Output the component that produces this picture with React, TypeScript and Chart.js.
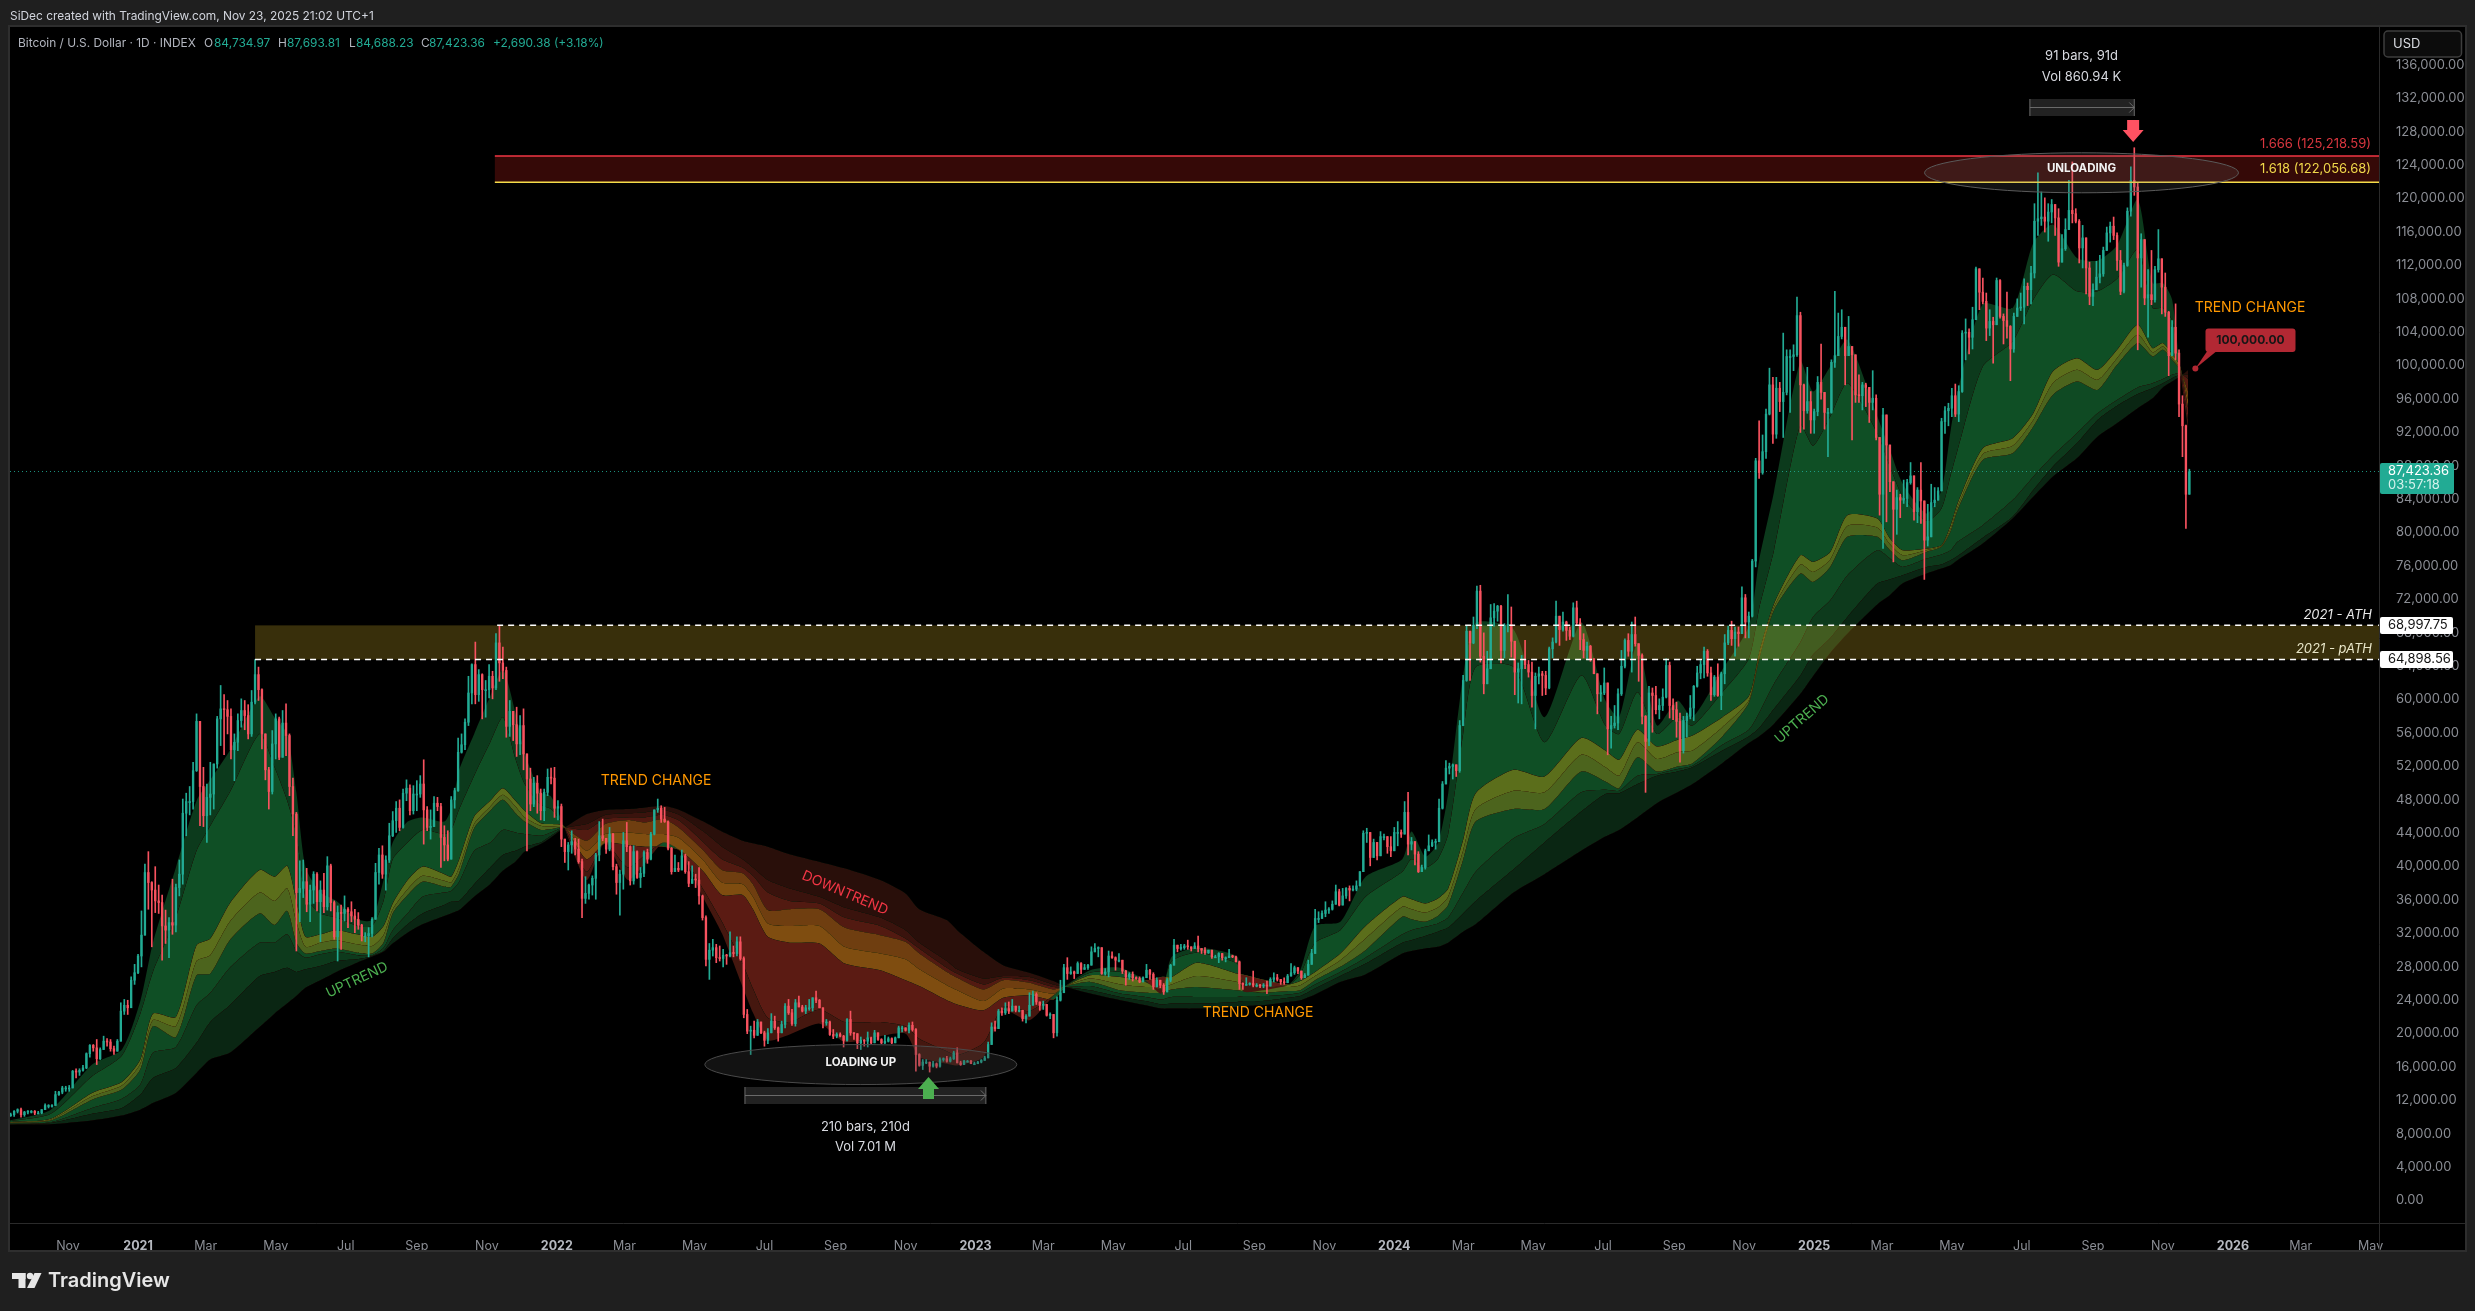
import React, { useEffect, useRef } from "react";
import { Chart, registerables } from "chart.js";

Chart.register(...registerables);

// Prices are in thousands of USD. Candles: [high, low, close], one per 3 days.
const candles2020 = [
[10.6,10.2,10.4],[10.9,10.2,10.8],[11.1,10.6,11.0],[11.2,10.1,10.4],[10.8,10.2,10.7],[10.9,10.5,10.8],[10.9,10.6,10.8],
[10.9,10.4,10.6],[10.8,10.5,10.6],[11.0,10.5,11.0],[11.7,11.0,11.5],[11.6,11.2,11.5],[11.6,11.3,11.5],[13.2,11.5,12.8],[13.2,12.7,13.1],[13.8,12.9,13.6],[13.8,13.2,13.6],
[13.9,13.2,13.6],[15.7,13.6,15.6],[15.9,14.8,15.5],[15.9,15.1,15.7],[16.3,15.6,16.0],[17.8,15.9,17.7],[18.8,17.3,18.7],[18.8,18.0,18.4],[19.4,16.4,17.1],[18.4,17.0,18.2],
[19.8,18.2,19.2],[19.5,18.6,19.1],[19.4,18.0,18.3],[18.6,17.6,18.0],[19.4,18.0,19.2],[23.8,19.2,22.8],[24.2,22.4,23.5],[24.1,22.4,23.2],[26.9,23.2,26.5],[28.4,26.0,27.4],
];
const candles2021 = [
[29.6,27.3,29.4],[34.8,28.1,31.9],[40.4,31.9,39.4],[41.9,35.0,38.2],[38.3,30.5,37.3],[40.1,34.6,36.0],[37.9,34.5,35.8],[36.7,28.9,33.0],[34.9,30.9,32.5],[34.0,29.2,33.4],[38.6,32.0,33.1],
[38.0,32.3,37.6],[40.9,36.6,39.2],[48.2,38.0,46.5],[48.9,43.8,47.9],[49.7,46.3,47.9],[52.6,47.0,51.6],[58.4,51.5,57.5],[57.5,45.0,49.7],[52.0,44.9,46.2],[50.0,43.0,48.4],[52.6,46.3,48.8],[52.4,47.0,52.4],[58.1,51.9,57.8],[61.8,54.6,59.0],[60.7,53.5,58.9],[60.0,56.0,58.1],[59.0,53.0,54.1],[56.0,50.4,55.0],[58.4,54.0,57.6],
[60.2,56.8,58.8],[60.0,56.5,58.2],[59.5,55.4,56.0],[61.2,55.7,59.8],[64.9,59.6,63.1],[64.0,60.0,61.3],[61.4,54.2,56.0],[56.0,50.5,51.7],[52.0,47.0,49.1],[56.4,48.8,54.8],[58.4,53.0,57.8],[58.0,52.9,53.2],[58.8,53.2,57.3],[59.6,53.4,55.8],[56.0,48.6,49.7],[50.7,43.8,46.4],[46.6,30.0,37.0],[40.8,33.5,37.5],[40.9,36.4,38.3],[39.9,34.7,35.6],[37.9,33.5,37.3],
[39.5,35.7,39.2],[39.4,34.8,35.9],[38.4,31.1,37.3],[39.3,34.6,35.3],[41.3,34.9,40.2],[40.4,34.8,35.8],[36.0,31.4,31.7],[35.4,28.8,34.6],[35.5,30.2,34.5],[36.6,33.6,35.0],[35.2,32.8,34.7],[35.9,33.5,34.2],[35.0,32.2,33.8],[34.6,32.6,33.1],[33.2,31.2,31.8],[32.2,31.1,31.8],[32.8,29.3,32.1],[34.0,31.7,33.8],[40.5,33.8,39.4],[42.3,38.0,41.5],
[42.6,38.7,39.2],[41.4,37.3,40.9],[45.3,40.6,43.8],[46.7,43.7,45.6],[47.9,44.2,47.1],[48.1,44.4,44.8],[49.4,44.7,48.9],[50.5,48.0,49.5],[49.9,46.3,46.8],[49.8,46.4,48.8],[50.4,46.8,48.8],[51.0,48.4,50.0],[52.9,42.8,46.9],[47.3,44.4,44.8],[46.9,43.4,44.9],[48.5,44.9,47.7],[48.4,46.8,47.3],[47.7,40.0,43.6],[45.0,40.8,42.7],[44.4,40.8,41.0],
[48.5,41.0,48.1],[49.5,47.1,49.2],[55.5,49.1,53.8],[56.0,53.7,54.7],[57.8,54.1,57.4],[62.9,57.0,60.9],[64.4,59.6,64.3],[67.0,59.6,60.7],[63.7,59.9,63.1],[63.2,57.8,61.3],[62.4,58.0,61.3],
[64.3,60.3,62.9],[63.5,60.2,61.5],[68.0,61.3,66.9],[69.0,62.3,64.5],[66.4,62.6,63.6],[64.0,55.6,56.9],[60.0,55.7,58.7],[58.7,55.2,57.1],[59.2,53.3,54.8],[58.2,53.5,57.0],
[59.0,51.7,53.6],[53.6,42.0,50.6],[51.9,46.8,47.6],[50.8,47.3,50.1],[51.0,46.5,48.9],[49.4,45.7,46.8],[49.4,45.6,49.0],[51.8,48.6,50.8],[51.9,50.0,50.7],[52.0,46.0,47.1],
];
const candles2022 = [
[48.0,45.7,47.3],[47.6,42.5,43.4],[43.4,40.6,41.9],[43.0,39.7,42.7],[44.4,41.7,43.1],[43.5,41.5,42.2],[43.4,40.5,40.7],[41.0,34.0,36.3],[38.9,35.7,36.9],[38.0,36.2,37.9],
[39.0,36.7,38.7],[41.7,36.2,41.5],[45.5,40.8,43.8],[45.8,43.2,43.5],[43.5,41.7,42.2],[44.8,42.0,44.0],[44.1,39.7,40.1],[40.4,36.8,38.2],[39.7,34.3,39.2],[44.2,37.4,43.2],
[45.4,41.9,42.5],[42.6,37.9,38.4],[42.6,38.0,41.9],[42.0,38.7,38.8],[40.0,37.6,39.3],[42.0,38.9,41.8],[42.2,40.5,41.0],[44.2,40.9,44.0],[46.9,43.9,46.9],[48.2,46.6,47.1],
[47.4,45.4,45.8],[47.2,45.4,45.5],[45.6,42.1,42.3],[42.4,39.2,39.5],[41.5,39.5,39.9],[40.6,39.5,39.7],[42.1,39.7,41.4],[41.6,39.3,39.5],[40.7,37.7,38.1],[40.2,38.1,38.6],
[39.2,37.6,38.5],[40.0,35.6,36.6],[36.7,33.7,34.0],[34.2,28.2,29.0],[30.9,26.6,30.1],[31.4,29.4,30.4],[30.8,28.6,29.2],[30.6,28.8,29.1],[30.2,28.1,29.5],[29.6,28.4,29.4],[32.3,29.3,29.8],
[30.6,29.3,29.7],[31.7,29.4,31.1],[31.7,28.9,29.1],[29.3,22.0,22.4],[23.0,20.1,20.4],[21.0,17.6,20.5],[21.6,19.6,19.9],[21.8,19.9,21.5],[21.5,20.1,20.2],[20.4,18.6,19.3],
[20.7,18.9,20.2],[22.5,20.2,21.6],[22.2,20.6,20.8],[20.9,19.2,20.2],[21.6,20.2,21.2],[23.7,20.8,23.4],[24.2,22.4,22.6],[23.0,21.1,21.3],[24.2,21.0,23.8],[24.6,23.3,23.3],
[23.5,22.7,22.8],[23.5,22.5,23.2],[24.2,22.9,23.2],[24.4,22.8,24.4],[25.2,23.8,24.1],[24.2,23.2,23.2],[23.2,20.8,21.5],[21.8,21.1,21.5],[21.6,19.9,20.0],[20.6,19.5,19.8],
[20.2,19.6,20.0],[20.2,19.7,19.8],[19.9,18.5,19.3],[21.9,19.2,21.8],[22.8,19.9,20.2],[20.2,19.4,20.1],[20.1,18.3,19.0],[19.7,18.2,19.3],[19.4,18.6,19.2],[20.3,18.5,19.6],
[19.7,18.9,19.0],[20.5,19.0,20.2],[20.2,19.3,19.4],[19.5,18.9,19.0],[19.9,18.9,19.2],[19.7,19.1,19.5],[19.6,18.9,19.0],[19.7,19.0,19.6],[21.0,19.6,20.8],[21.0,20.3,20.8],
[20.8,20.4,20.5],[21.4,20.2,21.1],[21.5,20.4,20.6],[20.7,15.6,17.6],[17.7,16.2,16.3],[17.0,15.8,16.7],[17.0,16.5,16.7],[16.7,15.5,16.2],[16.8,16.1,16.5],[16.6,16.0,16.2],
[17.2,16.1,17.0],[17.2,16.8,17.1],[17.4,16.7,16.8],[17.3,16.7,17.1],[18.0,17.0,17.8],[18.4,16.6,16.6],[16.8,16.3,16.4],[16.9,16.4,16.8],[16.9,16.7,16.8],[16.9,16.5,16.5],[16.7,16.4,16.5],
];
const candles2023 = [
[16.8,16.5,16.7],[17.0,16.6,16.9],[17.4,16.9,17.2],[19.1,17.2,18.8],[21.4,18.8,20.9],[21.6,20.4,20.7],[23.0,20.7,22.8],[23.2,22.3,22.6],[23.8,22.4,23.1],[23.9,22.5,22.8],
[24.2,22.8,23.4],[23.4,22.7,22.9],[23.4,22.7,22.9],[22.9,21.6,21.9],[22.4,21.4,22.2],[25.0,22.2,23.5],[25.2,23.5,24.8],[25.0,23.6,23.9],[23.9,22.9,23.5],[24.0,23.0,23.6],
[23.6,22.2,22.3],[22.6,21.9,22.4],[22.4,19.6,20.2],[24.5,19.8,24.1],[26.5,24.0,25.0],[28.4,25.0,28.0],[29.2,26.6,27.3],[28.1,27.2,27.5],[27.6,26.7,27.3],[28.7,27.3,28.5],
[28.6,27.3,27.8],[28.4,27.8,28.0],[28.4,27.8,28.3],[30.5,28.3,29.9],[30.9,29.9,30.3],[30.5,29.3,30.4],[30.4,27.2,27.3],[27.9,27.1,27.5],[30.0,26.9,29.4],[29.9,29.1,29.2],
[29.3,27.7,28.9],[29.7,28.7,28.9],[28.9,27.3,27.6],[27.7,25.9,26.9],[27.4,26.6,27.2],[27.5,26.4,26.8],[26.9,26.6,26.7],[26.9,26.2,26.3],[26.9,26.3,26.8],[28.4,26.8,27.7],
[27.8,26.6,27.2],[27.4,25.4,25.7],[26.8,25.7,26.5],[26.5,25.6,25.9],[26.1,24.8,25.1],[26.7,25.1,26.5],[28.4,26.3,28.3],[31.4,28.3,30.7],[30.7,29.9,30.3],[30.8,30.1,30.4],
[30.8,30.2,30.6],[31.3,30.2,30.5],[30.5,30.0,30.3],[31.0,30.3,30.6],[31.8,29.9,30.3],[30.3,29.7,30.1],[30.4,29.6,29.8],[30.1,29.7,30.1],[30.1,29.1,29.3],[29.5,29.2,29.3],
[29.8,28.6,29.7],[29.7,28.9,29.2],[29.3,28.7,29.2],[30.2,29.2,29.4],[29.5,29.2,29.3],[29.4,28.7,28.7],[28.8,25.4,26.1],[26.2,25.4,26.0],[26.8,25.9,26.0],[26.2,25.9,26.1],
[27.6,25.7,25.9],[26.1,25.7,25.9],[26.0,25.6,25.8],[26.1,25.6,25.9],[26.4,24.9,25.8],[26.8,25.8,26.6],[27.4,26.3,26.8],[27.2,26.4,26.6],[26.6,26.0,26.3],[26.8,26.0,26.2],[27.2,26.2,27.0],
[28.5,27.0,27.4],[28.2,27.2,28.0],[28.0,27.3,27.6],[27.6,26.6,26.8],[27.3,26.8,27.1],[28.9,27.1,28.4],[30.2,28.4,29.7],[35.0,29.7,33.9],[34.7,33.4,33.9],[34.8,33.9,34.5],
[35.9,34.1,34.9],[35.2,34.5,35.0],[36.0,34.9,35.6],[37.9,35.6,37.1],[37.4,35.4,35.5],[37.5,35.5,36.6],[37.6,36.3,37.5],[37.8,36.0,37.3],[37.8,37.2,37.4],[38.4,37.2,37.8],
[39.5,37.8,39.5],[44.4,39.5,44.1],[44.7,43.0,44.2],[44.2,40.2,41.2],[43.4,41.2,43.0],[43.0,40.9,41.4],[44.3,41.4,43.7],[44.0,43.3,43.7],[43.7,41.7,42.5],[43.7,41.3,42.0],
];
const candles2024 = [
[44.8,42.0,44.2],[45.5,42.6,44.2],[44.5,43.6,44.0],[47.9,44.0,46.6],[49.0,41.5,42.8],[43.6,42.1,43.1],[43.1,40.3,41.6],[41.9,39.4,39.5],[40.3,39.5,40.0],[42.2,39.8,42.0],[43.9,42.0,42.6],
[43.3,42.5,43.0],[43.4,42.2,43.1],[48.2,43.1,47.1],[50.3,47.0,50.0],[52.8,50.0,51.9],[52.5,51.2,52.1],[52.4,50.6,52.3],[52.3,50.9,51.6],[57.6,51.4,57.0],[63.0,57.0,62.4],[68.9,62.3,68.3],[68.3,62.4,66.9],[70.0,66.8,69.0],[73.7,68.6,73.1],[73.8,64.6,65.3],[68.1,60.8,62.0],[65.9,62.0,63.8],[71.5,63.8,69.9],[71.6,68.9,70.7],[71.4,69.5,71.3],
[71.4,64.5,66.0],[69.2,65.1,69.0],[72.7,68.2,69.1],[71.2,65.2,67.1],[67.1,60.7,63.4],[64.5,59.7,63.8],[65.4,59.6,64.9],[67.2,63.8,64.3],[64.8,62.8,63.4],[64.6,59.2,60.6],
[63.3,56.6,62.9],[64.0,62.0,63.2],[63.5,60.6,63.0],[63.5,60.7,61.5],[66.4,61.4,66.2],[67.5,65.1,67.0],[71.9,66.9,70.1],[70.1,66.6,68.5],[70.6,68.3,69.4],[69.5,67.2,68.4],
[68.8,67.3,67.7],[71.7,67.6,71.1],[71.9,69.0,69.3],[69.8,66.1,67.3],[68.0,65.1,66.0],[67.0,64.9,66.5],[66.6,64.7,65.0],[65.0,63.2,63.2],[63.2,58.4,60.8],[61.8,59.9,60.9],
[63.9,60.7,62.1],[62.1,53.5,56.6],[58.1,54.3,57.0],[59.4,56.7,57.3],[61.4,56.5,60.8],[66.0,60.6,64.1],[67.4,63.9,67.2],[68.0,65.3,65.9],[69.4,63.4,67.9],[70.0,66.5,66.8],
[66.8,62.3,65.4],[65.6,57.2,58.1],[58.2,49.0,55.1],[61.7,54.6,60.9],[61.5,56.2,60.6],[61.7,58.4,58.9],[60.2,57.8,59.4],[61.4,58.8,60.4],[65.0,60.3,64.2],[64.6,57.9,59.4],[60.2,57.7,58.9],
[59.8,55.6,57.5],[58.5,52.6,54.0],[58.1,53.7,57.6],[58.5,55.6,58.1],[60.6,57.8,59.1],[61.8,57.6,61.7],[64.1,61.6,63.3],[64.8,62.6,64.3],[66.4,62.7,65.9],[66.1,62.9,63.3],
[64.0,60.0,60.7],[63.0,60.5,62.8],[64.4,60.5,60.6],[63.4,58.9,63.2],[67.9,62.0,66.9],[68.9,66.7,68.4],[69.5,66.6,67.4],[68.8,65.3,68.2],[68.8,66.5,68.0],[73.6,68.0,72.3],
[72.7,67.5,69.4],[70.6,67.5,70.1],[76.9,70.0,76.7],[89.0,76.0,88.7],[93.5,86.6,87.3],[91.8,87.1,89.8],[94.9,89.0,94.3],[99.8,94.2,97.8],[98.7,90.8,91.9],[98.7,91.4,97.4],
[98.1,94.6,95.8],[104.0,91.5,96.9],[102.0,96.6,101.2],[102.0,94.5,101.2],[102.6,99.5,101.4],[108.3,101.2,106.1],[106.5,92.1,97.8],[97.9,92.5,94.7],[99.9,94.4,95.8],[97.0,92.0,93.6],
];
const candles2025 = [
[94.9,92.0,94.6],[98.8,94.1,98.1],[102.7,96.1,96.9],[96.9,92.5,94.5],[95.0,89.2,94.5],[100.8,94.4,100.5],[109.0,99.9,101.3],[106.4,101.3,103.6],[106.8,103.3,104.7],[104.7,97.8,101.3],[106.0,101.3,102.4],
[102.4,91.2,101.4],[101.4,95.7,96.6],[99.0,95.7,96.5],[98.1,94.8,97.8],[98.0,95.2,97.5],[97.5,93.3,95.7],[99.5,94.8,96.2],[96.6,91.2,91.5],[91.5,82.2,84.7],[95.0,78.2,94.2],[94.2,81.4,90.6],[90.6,85.0,86.2],[86.2,76.6,82.9],[85.2,79.9,84.3],[84.7,81.9,84.0],[86.4,83.6,84.2],[86.5,83.2,86.1],[88.5,85.9,86.9],[86.9,81.6,82.6],
[85.5,81.3,85.2],[88.5,81.2,83.9],[83.9,74.5,79.2],[83.5,78.5,79.6],[85.9,79.6,83.7],[85.5,83.2,84.0],[85.5,84.0,85.1],[93.8,85.1,93.4],[95.2,92.0,94.7],[95.6,92.9,95.0],
[97.4,94.0,96.5],[97.9,94.0,94.3],[97.7,93.4,97.0],[104.3,96.9,104.0],[105.7,100.8,104.1],[104.5,101.5,103.5],[107.1,102.1,105.6],[111.9,105.6,111.7],[111.7,106.8,108.9],[110.6,107.5,107.8],[108.8,103.1,104.6],
[106.8,103.7,105.4],[105.9,100.4,105.0],[110.6,105.0,110.3],[110.4,105.8,106.0],[106.3,102.7,105.5],[108.9,103.4,104.8],[104.9,98.3,102.1],[106.4,101.7,106.0],[108.1,106.0,107.0],[108.8,106.7,107.1],
[110.5,105.1,109.6],[110.0,107.3,109.2],[112.0,107.5,111.2],[119.5,110.6,117.4],[123.2,115.7,117.7],[120.9,116.9,117.9],[120.2,116.1,117.4],[119.5,115.0,118.5],[120.0,117.2,119.4],[119.4,115.7,117.8],
[118.9,112.0,112.5],[115.8,112.5,114.1],[117.7,113.9,116.4],[122.3,116.4,118.7],[124.5,117.2,118.3],[118.9,117.2,117.4],[117.6,112.4,114.2],[116.9,111.8,115.4],[115.4,108.7,111.8],[112.5,107.4,108.4],
[109.9,107.3,109.2],[112.6,109.2,110.7],[113.3,110.0,111.1],[114.3,110.8,113.9],[116.7,113.9,116.0],[117.3,114.9,116.8],[117.9,115.2,115.7],[116.0,111.5,112.7],[113.9,108.6,109.0],[112.4,108.8,112.1],
[119.0,112.0,118.6],[123.9,118.0,122.3],[126.2,120.5,121.5],[122.0,102.0,113.0],[115.9,109.5,115.2],[115.2,107.4,108.2],[111.6,103.5,108.6],[113.9,107.4,108.0],[112.0,107.7,111.6],[116.4,111.3,112.9],[112.9,106.3,109.5],
[111.2,106.0,106.5],[106.6,98.9,101.3],[105.5,101.3,104.7],[107.5,100.8,101.6],[102.0,94.0,95.5],[96.5,89.2,92.9],[93.0,80.6,84.7],[87.7,84.7,87.4],
];

// Ribbon rows: [day since 2021-01-01, s1 (fastest) ... s8 (slowest)]
const ribbonBull2021 = [
[-112,9.7,9.6,9.5,9.45,9.4,9.3,9.25,9.2],[-76,11.0,10.5,9.9,9.8,9.7,9.5,9.4,9.25],[-40,16.4,15.0,13.0,12.6,12.2,11.2,10.5,9.7],[-14,18.2,17.5,14.3,13.9,13.4,12.3,11.2,10.3],
[2,24,22.5,17.0,16.5,15.8,14,12.8,11.0],[13,31,27.5,22.5,21.7,21,17.8,14.8,11.8],[33,40,34,22.1,21,19.7,18.5,16,13.0],[51,48,42,30.7,28.8,27.1,23.5,19,15.4],[63,50.5,45,31.5,29.5,27.3,25,21.5,17],
[80,54,49,35.7,33.5,31.3,28,23.5,17.8],[106,60.5,56,39.7,37,34.5,31,27,20.9],[119,58,52,38.9,36,33.1,31,27.5,22.5],[130,56,48,40.2,37.5,34.8,32,28,23.7],[138,49,44,36,33.5,31,30,27.5,24.6],
[146,40,36.5,31.7,30.5,29.7,29.2,27.8,25.6],[159,37,34.5,32,31,30,29.6,28.2,26.5],[173,36,34,32.5,31.3,30.3,29.9,28.8,27.5],[191,33.8,33,32,30.8,29.8,29.5,29,28.6],[204,33.7,33,31.7,30.6,29.7,29.5,29.4,29.3],
[214,38.5,36,33,31.9,31,30.4,30,29.9],[222,43,41,35.7,35,34.5,32.5,31.5,30.9],[235,45.5,43,38.5,37.4,36.7,34.5,33.2,32.2],[248,46,44.5,40.1,39,38.3,36.5,34.5,33.2],[267,45.5,44,39.2,38.4,37.7,37,35.5,34.2],[273,47,44.5,38.9,38.2,37.7,37.2,35.9,34.5],
[280,51.7,47,41,40,39.3,38.3,36,34.9],[293,56,51,46.1,45.2,44.7,42,38,36.5],[307,60.5,55,48,47.3,46.8,43,40,38],[318,63.7,58,49.5,48.7,48.1,44.5,41.5,39.6],[329,58.5,53,48,47.3,46.5,44.2,42,40.7],[337,53.7,50,46.8,46,45.5,44,42.5,41.9],
[351,49,47.5,45.3,45,44.5,43.8,43,42.8],[360,48.5,47,45.2,44.9,44.6,44.2,43.8,43.6],[371,45.0,45,45,44.9,44.8,44.8,44.7,44.7],
];
const ribbonBear2022 = [
[391,38.5,39.5,41,42,43.2,44.5,45.2,46.4],[407,43,43,42.9,44,45.2,45.8,46.3,46.9],[427,38.5,40,42.7,44.2,45.7,46,46.5,47],[442,40.5,41.5,42.5,44,45.4,46,46.6,47.2],[458,43,43,42.5,44,45.8,46.3,46.9,47.4],
[472,42,42,42.1,43.5,44.7,45.6,46.3,46.9],[493,36.3,37.3,39.5,40.8,42,43,44.3,45.5],[509,32.1,33.5,36.7,38.2,39.7,41,42.5,44.3],[527,25.7,28.5,36.7,38,39.3,40,41,43.2],[536,22.6,25.5,35,36.5,38,39,40,42.9],
[549,19.3,22,31.7,33.3,34.9,37,38.5,42.5],[568,20,21.5,31,33,35,36,37.5,41.6],[594,21.3,23,30.9,33,35,35.7,36.5,40.7],[616,19.1,21.5,28.5,30.5,32.8,34,35.2,39.9],[647,19.8,21.5,27.7,29.7,31.9,33,34,38.5],
[669,20.1,21,26.5,29,31.1,31.5,32.5,36.9],[681,17.3,19.5,25.8,27.8,29.7,30.3,31,35],[705,16.5,18,24.1,25.9,27.5,28,28.8,33.7],[714,16.3,17.5,23.6,25.3,26.8,27.3,27.8,32.5],[737,17.3,19,22.9,24,25.4,26,26.7,29.9],
[754,22.9,23.3,24.4,25.5,26.5,26.8,27,28.3],[777,21.7,22.8,24.7,25.4,26.2,26.5,26.9,27.4],[798,24.6,24.7,24.2,24.9,25.4,25.7,26,26.4],[809,25.9,25.9,25.8,25.8,25.8,25.7,25.7,25.7],
];
const ribbonBull2023 = [
[830,27.7,27.4,27.1,26.7,26.3,25.8,25.3,24.9],[856,28,27.5,26.9,26,25.3,24.9,24.5,24.1],[878,26.5,26.3,26.5,25.7,25,24.5,24,23.5],[892,24.9,25.5,26.9,25.7,25,24.2,23.6,23.1],[901,29.3,28.8,26.9,26,25.4,24.5,23.7,23.1],
[923,30.4,29.8,28.6,27,25.7,24.5,23.7,23.1],[958,29.3,28.5,27.3,26.3,25.3,24.5,23.9,23.3],[963,25.2,26.4,27.2,26.2,25.2,24.6,24,23.4],[980,25.3,25.8,26.6,26,25,24.6,24,23.5],[1003,26,26,26,25.7,25.2,24.8,24.4,23.9],
[1013,27.7,27.2,26.4,25.9,25.3,25,24.6,24.1],[1026,33,31,27.5,27,26.5,26,25.5,24.8],[1048,33.5,32.5,29.7,28.9,28.1,27.5,27,26.3],[1070,38.9,36.5,33,31.5,30.1,29.2,28.5,27.2],[1102,41,39.5,36.5,35.3,34.1,32,31,29.7],
[1110,44.3,41,36.2,35,33.8,32.5,31.3,30],[1122,41.3,40,35.7,34.6,33.5,32.9,31.8,30.3],[1133,42.9,41,36.3,35.2,34.2,33.3,32.3,30.5],[1142,48.9,44,37.5,36.5,35.5,34,32.8,31],[1155,62.9,56,43.3,42,40.9,37,34.5,32.3],
[1166,69.3,64,48.9,47,45.5,39.5,36,33.2],[1199,68.5,64,51.7,49.2,47,43.5,39.8,37],[1226,58,55,50.9,49,47,45.2,43,39.2],[1258,69.3,63,55.5,53.5,51.5,49,46.7,42],[1279,60,57,54,52,50.3,49.3,48.8,43.7],
[1291,58,56,52.9,51,49.5,49.2,48.9,44.5],[1307,66.9,61,56.5,55,53.2,51,50,46],[1324,57,56,54.5,53,51.5,51.2,51,47.7],[1342,60,58,55.3,53.8,52.1,51.8,51.5,49],[1355,58,57,55.8,54,52.5,52.2,52,50],
[1381,63.7,61,58,56.8,55.7,54.7,54,52.5],[1404,68.9,65,60.5,60,59.7,56.5,55.7,54.9],[1413,76.8,71,65.7,65.3,64.9,58.5,56.7,55.7],[1426,85,78,71.6,71.2,70.8,62,59,57.2],
];
const ribbonBull2025 = [
[1449,100.6,93,77.4,76.3,75.2,67,63,60.8],[1460,97,90.5,76.6,75.4,74.2,70,65.5,62.9],[1475,100,94,77.8,76.9,76,72,67.5,65.7],[1490,103.2,98,82.2,80.9,79.6,75,70,68],[1516,94,92,81.8,80.7,79.6,78,74,71.5],
[1527,90,88,79.4,78.7,78,77,74.5,72.6],[1538,86,84.5,78,77.4,76.8,76,75,74],[1559,82.4,81.5,78.2,78,77.8,77,76,75.2],[1572,85.2,83,78.6,78.5,78.4,77.5,76.3,75.8],[1580,92.4,87,81,80.6,80.3,78,76.8,76.2],
[1586,97,90,83.6,83.2,82.8,79,77.3,76.8],[1608,107.5,100,90.2,89.5,88.8,81,79.5,78.8],[1634,107,103,91.4,90.5,89.6,84,82,81.8],[1652,114.8,108,94.4,93.6,92.8,86.8,85.2,84.4],[1669,117,111,99.4,98,96.6,89.3,88,86.8],
[1690,113,109,101,99.6,98.2,92,90.8,89],[1708,112.7,109,99.6,98.4,97.2,94.4,93.6,91.6],[1725,114.5,110.5,102,101,100.2,96,95.3,93.2],[1743,120,114,105,103.8,102.8,97.5,96.7,95],[1756,110,107,102.2,101.7,101.2,98,97.4,96.2],
[1765,110,107,102.8,102.4,102,98.5,98,97.5],[1773,108,105.5,101.5,101,100.8,99,98.6,98.2],[1780,99.5,100,100,99.8,99.6,99.2,99,98.8],[1787,92.5,93.5,95,96,97,98.5,99,99.6],
];

const priceTicks = [0,4,8,12,16,20,24,28,32,36,40,44,48,52,56,60,64,68,72,76,80,84,88,92,96,100,104,108,112,116,120,124,128,132,136];
const timeTickDays = [-61,0,59,120,181,243,304,365,424,485,546,608,669,730,789,850,911,973,1034,1095,1155,1216,1277,1339,1400,1461,1520,1581,1642,1704,1765,1826,1885,1946];
const timeTickLabels = ["Nov","2021","Mar","May","Jul","Sep","Nov","2022","Mar","May","Jul","Sep","Nov","2023","Mar","May","Jul","Sep","Nov","2024","Mar","May","Jul","Sep","Nov","2025","Mar","May","Jul","Sep","Nov","2026","Mar","May"];

const fib1666 = 125.21859;
const fib1618 = 122.05668;
const ath2021 = 68.99775;
const pAth2021 = 64.89856;
const lastPrice = 87.42336;
const calloutPrice = 100;

const bandAbove = ["#0c3a1c","#0f4f25","#5b6e1b","#4c641d","#0f4a23","#0d3a1c","#0a2613"];
const bandBelow = ["#45170f","#5b1b13","#7f4d10","#6f3e10","#521a11","#3a130d","#290f0a"];

const UI = "Inter, 'Liberation Sans', sans-serif";
const UP = "#22ab94";
const DOWN = "#f7525f";

const text = (c: CanvasRenderingContext2D, s: string, x: number, y: number, font: string, color: string, align: CanvasTextAlign = "left", angle = 0) => {
  c.save();
  c.translate(x, y);
  if (angle) c.rotate((angle * Math.PI) / 180);
  c.font = font;
  c.fillStyle = color;
  c.textAlign = align;
  c.textBaseline = "middle";
  c.fillText(s, 0, 0);
  c.restore();
};

const hLine = (c: CanvasRenderingContext2D, x0: number, x1: number, y: number, color: string, w: number, dash: number[] = []) => {
  c.save();
  c.strokeStyle = color;
  c.lineWidth = w;
  c.setLineDash(dash);
  c.beginPath();
  c.moveTo(x0, y);
  c.lineTo(x1, y);
  c.stroke();
  c.restore();
};

const ellipse = (c: CanvasRenderingContext2D, cx: number, cy: number, rx: number, ry: number, fill: string, stroke: string) => {
  c.save();
  c.fillStyle = fill;
  c.strokeStyle = stroke;
  c.lineWidth = 1;
  c.beginPath();
  c.ellipse(cx, cy, rx, ry, 0, 0, Math.PI * 2);
  c.fill();
  c.stroke();
  c.restore();
};

const rangeBox = (c: CanvasRenderingContext2D, x0: number, x1: number, y0: number, y1: number) => {
  c.save();
  c.fillStyle = "#222222";
  c.fillRect(x0, y0, x1 - x0, y1 - y0);
  c.strokeStyle = "#6a6a6a";
  c.lineWidth = 1;
  const m = (y0 + y1) / 2;
  c.beginPath();
  c.moveTo(x0, y0); c.lineTo(x0, y1);
  c.moveTo(x1, y0); c.lineTo(x1, y1);
  c.moveTo(x0, m); c.lineTo(x1, m);
  c.moveTo(x1 - 5, m - 5); c.lineTo(x1, m); c.lineTo(x1 - 5, m + 5);
  c.stroke();
  c.restore();
};

const blockArrow = (c: CanvasRenderingContext2D, x: number, tip: number, base: number, neck: number, headW: number, shaftW: number, color: string) => {
  c.save();
  c.fillStyle = color;
  c.beginPath();
  c.moveTo(x, tip);
  c.lineTo(x + headW / 2, neck);
  c.lineTo(x + shaftW / 2, neck);
  c.lineTo(x + shaftW / 2, base);
  c.lineTo(x - shaftW / 2, base);
  c.lineTo(x - shaftW / 2, neck);
  c.lineTo(x - headW / 2, neck);
  c.closePath();
  c.fill();
  c.restore();
};

const roundBox = (c: CanvasRenderingContext2D, x: number, y: number, w: number, h: number, r: number, fill: string, stroke?: string) => {
  c.save();
  c.beginPath();
  c.roundRect(x, y, w, h, r);
  c.fillStyle = fill;
  c.fill();
  if (stroke) {
    c.strokeStyle = stroke;
    c.lineWidth = 1.5;
    c.stroke();
  }
  c.restore();
};

const overlayPlugin = {
  id: "overlay",
  beforeDraw(chart: any) {
    const c = chart.ctx;
    c.save();
    c.fillStyle = "#1f1f1f";
    c.fillRect(0, 0, 2475, 1311);
    c.fillStyle = "#000000";
    c.fillRect(10, 27, 2455, 1223);
    c.strokeStyle = "#2e2e2e";
    c.lineWidth = 2;
    c.strokeRect(9, 26, 2457, 1225);
    c.restore();
  },
  beforeDatasetDraw(chart: any, args: any) {
    if (args.index !== 1) return;
    const c = chart.ctx;
    const X = (d: number) => chart.scales.x.getPixelForValue(d);
    const Y = (v: number) => chart.scales.y.getPixelForValue(v);
    const right = chart.chartArea.right;
    c.save();
    c.fillStyle = "rgba(240,40,30,0.22)";
    c.fillRect(X(311), Y(fib1666), right - X(311), Y(fib1618) - Y(fib1666));
    c.fillStyle = "rgba(255,215,50,0.22)";
    c.fillRect(X(102), Y(ath2021), right - X(102), Y(pAth2021) - Y(ath2021));
    c.restore();
    hLine(c, chart.chartArea.left, right, Y(lastPrice), "rgba(34,171,148,0.85)", 1, [1, 3]);
  },
  afterDatasetsDraw(chart: any) {
    const c = chart.ctx;
    const X = (d: number) => chart.scales.x.getPixelForValue(d);
    const Y = (v: number) => chart.scales.y.getPixelForValue(v);
    const right = chart.chartArea.right;

    hLine(c, X(311), right, Y(fib1666), "#f23645", 1.5);
    hLine(c, X(311), right, Y(fib1618), "#f5dc4a", 1.5);
    hLine(c, X(313), right, Y(ath2021), "#ffffff", 1.5, [6, 5]);
    hLine(c, X(102), right, Y(pAth2021), "#ffffff", 1.5, [6, 5]);

    const labelFont = `13px ${UI}`;
    text(c, "1.666 (125,218.59)", 2371, 144, labelFont, "#d9363f", "right");
    text(c, "1.618 (122,056.68)", 2371, 169, labelFont, "#f0d84a", "right");
    text(c, "2021 - ATH", 2372, 615, `italic 13px ${UI}`, "#e8e8e8", "right");
    text(c, "2021 - pATH", 2372, 649, `italic 13px ${UI}`, "#e8e6c8", "right");

    // Unloading zone
    ellipse(c, X(1694), Y(123.2), 157, 20, "rgba(120,120,120,0.16)", "#5a5a5a");
    text(c, "UNLOADING", X(1694), 169, `bold 11.5px ${UI}`, "#f2f2f2", "center");
    rangeBox(c, X(1649), X(1740), 99, 116);
    text(c, "91 bars, 91d", X(1694), 56, labelFont, "#d8dae0", "center");
    text(c, "Vol 860.94 K", X(1694), 77, labelFont, "#d8dae0", "center");
    blockArrow(c, X(1739), 142, 120, 130, 21, 12, "#ff5262");

    // Loading zone
    ellipse(c, X(630), Y(16.4), 156, 20, "rgba(60,60,60,0.3)", "#4a4a4a");
    text(c, "LOADING UP", X(630), 1062.5, `bold 11.5px ${UI}`, "#f2f2f2", "center");
    rangeBox(c, X(529), X(739), 1087, 1104);
    blockArrow(c, X(689), 1077, 1099, 1089, 21, 11, "#4caf50");
    text(c, "210 bars, 210d", X(634), 1127, labelFont, "#d8dae0", "center");
    text(c, "Vol 7.01 M", X(634), 1147, labelFont, "#d8dae0", "center");

    // Trend labels
    const tf = `14px ${UI}`;
    text(c, "TREND CHANGE", 656, 781, tf, "#ff9800", "center");
    text(c, "TREND CHANGE", 1258, 1013, tf, "#ff9800", "center");
    text(c, "TREND CHANGE", 2250, 308, tf, "#ff9800", "center");
    text(c, "UPTREND", 357, 980, tf, "#4caf50", "center", -25);
    text(c, "UPTREND", 1802, 719, tf, "#4caf50", "center", -41);
    text(c, "DOWNTREND", 845, 893, tf, "#f23645", "center", 23);

    // Callout with tail
    const px = X(1788) + 6;
    const py = Y(calloutPrice) + 2;
    c.save();
    c.fillStyle = "#b22833";
    c.beginPath();
    c.arc(px, py, 3, 0, Math.PI * 2);
    c.fill();
    c.beginPath();
    c.moveTo(px, py);
    c.lineTo(2218, 350);
    c.lineTo(2208, 350);
    c.closePath();
    c.fill();
    c.restore();
    roundBox(c, 2205.5, 328.5, 90, 23.5, 3, "#b22833");
    text(c, "100,000.00", 2250.5, 340.5, `bold 12px ${UI}`, "#161616", "center");

    // Price axis tags and separators
    c.save();
    c.fillStyle = "#000000";
    c.fillRect(2381, 28, 83, 31);
    c.restore();
    hLine(c, 10, 2465, 1223.5, "#2a2a2a", 1);
    c.save();
    c.strokeStyle = "#2a2a2a";
    c.lineWidth = 1;
    c.beginPath();
    c.moveTo(2379.5, 27);
    c.lineTo(2379.5, 1250);
    c.stroke();
    c.restore();
    roundBox(c, 2384, 31, 77.5, 26, 4, "#0c0c0c", "#3d3d3d");
    text(c, "USD", 2393, 44, `13px ${UI}`, "#d8dae0");
    const axisFont = `13px ${UI}`;
    roundBox(c, 2380, 617, 73, 17, 2, "#ffffff");
    text(c, "68,997.75", 2388, 625.5, axisFont, "#111111");
    roundBox(c, 2380, 651, 73, 17, 2, "#ffffff");
    text(c, "64,898.56", 2388, 659.5, axisFont, "#111111");
    roundBox(c, 2380, 463, 74, 31, 2, UP);
    text(c, "87,423.36", 2388, 471.5, axisFont, "#ffffff");
    text(c, "03:57:18", 2388, 485, axisFont, "#d5f2ec");

    // Header, legend, footer
    text(c, "SiDec created with TradingView.com, Nov 23, 2025 21:02 UTC+1", 10, 16, `11.9px ${UI}`, "#d1d4dc");
    const lf = `11.9px ${UI}`;
    text(c, "Bitcoin / U.S. Dollar · 1D · INDEX", 18, 43, lf, "#b2b5be");
    text(c, "O", 204, 43, lf, "#b2b5be");
    text(c, "84,734.97", 214, 43, lf, UP);
    text(c, "H", 278, 43, lf, "#b2b5be");
    text(c, "87,693.81", 287, 43, lf, UP);
    text(c, "L", 349, 43, lf, "#b2b5be");
    text(c, "84,688.23", 356, 43, lf, UP);
    text(c, "C", 421, 43, lf, "#b2b5be");
    text(c, "87,423.36", 429, 43, lf, UP);
    text(c, "+2,690.38 (+3.18%)", 493, 43, lf, UP);

    c.save();
    c.fillStyle = "#e6e6e6";
    c.fillRect(12, 1273, 13.5, 6);
    c.fillRect(18.5, 1273, 7, 15);
    c.beginPath();
    c.arc(30, 1276, 3.2, 0, Math.PI * 2);
    c.fill();
    c.beginPath();
    c.moveTo(34.5, 1273);
    c.lineTo(41.5, 1273);
    c.lineTo(34.5, 1288);
    c.lineTo(27, 1288);
    c.closePath();
    c.fill();
    c.restore();
    text(c, "TradingView", 48, 1281, `600 20px ${UI}`, "#e6e6e6");
  },
};

const withStart = (rows: number[][], startDay: number) =>
  rows.map((r, i) => ({ day: startDay + 3 * i, high: r[0], low: r[1], close: r[2] }));

export default function App() {
  const ref = useRef<HTMLCanvasElement>(null);
  useEffect(() => {
    document.body.style.margin = "0";
    document.body.style.background = "#1f1f1f";
    const candles = [
      ...withStart(candles2020, -111),
      ...withStart(candles2021, 0),
      ...withStart(candles2022, 366),
      ...withStart(candles2023, 732),
      ...withStart(candles2024, 1095),
      ...withStart(candles2025, 1461),
    ];
    const rows = [...ribbonBull2021, ...ribbonBear2022, ...ribbonBull2023, ...ribbonBull2025];
    const colors = candles.map((k, i) => (k.close >= (i ? candles[i - 1].close : k.close) ? UP : DOWN));
    const ribbons = [1, 2, 3, 4, 5, 6, 7, 8].map((col, i) => ({
      type: "line",
      data: rows.map((r) => ({ x: r[0], y: r[col] })),
      borderWidth: 0,
      borderColor: "transparent",
      pointRadius: 0,
      tension: 0.22,
      fill: i < 7 ? { target: "+1", above: bandAbove[i], below: bandBelow[i] } : false,
    }));
    const chart = new Chart(ref.current as HTMLCanvasElement, {
      type: "bar",
      data: {
        datasets: [
          {
            data: candles.map((k, i) => ({ x: k.day, y: [i ? candles[i - 1].close : k.close, k.close] })),
            backgroundColor: colors,
            barThickness: 1.7,
            minBarLength: 1,
            borderWidth: 0,
            grouped: false,
          },
          {
            data: candles.map((k) => ({ x: k.day, y: [k.low, k.high] })),
            backgroundColor: colors,
            barThickness: 1,
            borderWidth: 0,
            grouped: false,
          },
          ...ribbons,
        ] as any,
      },
      options: {
        responsive: false,
        animation: false,
        devicePixelRatio: 1,
        layout: { padding: { left: 10, right: 11, top: 27, bottom: 61 } },
        plugins: { legend: { display: false }, tooltip: { enabled: false }, title: { display: false } },
        scales: {
          x: {
            type: "linear",
            offset: false,
            min: -111.6,
            max: 1953.3,
            grid: { display: false },
            border: { display: false },
            afterFit: (s: any) => { s.height = 27; },
            afterBuildTicks: (s: any) => { s.ticks = timeTickDays.map((value) => ({ value })); },
            ticks: {
              autoSkip: false,
              maxRotation: 0,
              padding: 8,
              callback: (v: any) => timeTickLabels[timeTickDays.indexOf(Number(v))],
              font: (ctx: any) => ({
                family: UI,
                size: 12.5,
                weight: /^\d/.test(timeTickLabels[timeTickDays.indexOf(ctx.tick?.value)] || "") ? "bold" : "normal",
              }),
              color: (ctx: any) => (/^\d/.test(timeTickLabels[timeTickDays.indexOf(ctx.tick?.value)] || "") ? "#b5b8bf" : "#8b8e95"),
            },
          },
          y: {
            position: "right",
            min: -2.575,
            max: 140.66,
            grid: { display: false },
            border: { display: false },
            afterFit: (s: any) => { s.width = 85; },
            afterBuildTicks: (s: any) => { s.ticks = priceTicks.map((value) => ({ value })); },
            ticks: {
              autoSkip: false,
              crossAlign: "near",
              padding: 9,
              labelOffset: -1,
              color: "#8b8e95",
              font: { family: UI, size: 13 },
              callback: (v: any) =>
                (Number(v) * 1000).toLocaleString("en-US", { minimumFractionDigits: 2, maximumFractionDigits: 2 }),
            },
          },
        },
      } as any,
      plugins: [overlayPlugin as any],
    });
    return () => chart.destroy();
  }, []);
  return <canvas ref={ref} width={2475} height={1311} style={{ display: "block", width: 2475, height: 1311 }} />;
}
